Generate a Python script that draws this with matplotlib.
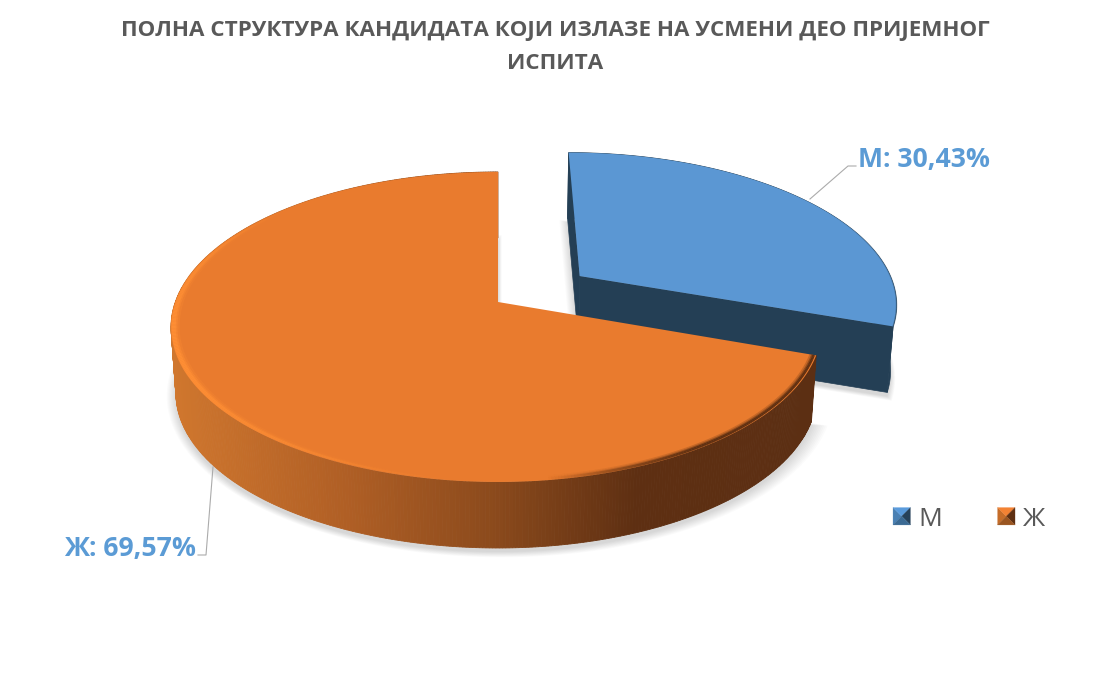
import numpy as np
import matplotlib
matplotlib.use("Agg")
import matplotlib.pyplot as plt
from matplotlib.patches import Polygon, Patch
from matplotlib.collections import LineCollection
from matplotlib.colors import LinearSegmentedColormap, to_rgb
from matplotlib.legend_handler import HandlerBase

# ---- data ----
categories = ["М", "Ж"]
shares = [30.43, 69.57]
title_text = "ПОЛНА СТРУКТУРА КАНДИДАТА КОЈИ ИЗЛАЗЕ НА УСМЕНИ ДЕО ПРИЈЕМНОГ\nИСПИТА"

# ---- style ----
BLUE_TOP, BLUE_SIDE = "#5B97D3", "#243F55"
ORANGE_TOP = "#E97B2E"
LABEL = "#5B9BD5"
GREY = "#595959"
plt.rcParams["font.family"] = ["Open Sans", "DejaVu Sans"]

# ---- layout of the projected disc (figure pixels) ----
APEX = np.array([498.0, 302.0])
BX, BX_RIGHT, AY, K = 322.7, 319.5, 151.0, -0.161
DEPTH, SHRINK = 66.0, 0.985
EXPLODE = (0.263, -0.177)


def project(x, y):
    d = 1 + K * y
    b = np.where(x > 0, BX_RIGHT, BX)
    return np.column_stack([APEX[0] + b * x / d, APEX[1] + AY * y / d])


def top_ring(theta, ex=0.0, ey=0.0):
    return project(np.sin(theta) + ex, -np.cos(theta) + ey)


def apex_point(ex=0.0, ey=0.0):
    return project(np.array([ex]), np.array([ey]))


def drop(p):
    q = p.copy()
    q[:, 0] = APEX[0] + SHRINK * (p[:, 0] - APEX[0])
    q[:, 1] = p[:, 1] + DEPTH
    return q


fig = plt.figure(figsize=(11.12, 6.76), dpi=100, facecolor="white")
ax = fig.add_axes([0, 0, 1, 1])
ax.set_xlim(0, 1112)
ax.set_ylim(676, 0)
ax.axis("off")

split = 2 * np.pi * shares[0] / sum(shares)
th_m = np.linspace(0, split, 160)
th_f = np.linspace(split, 2 * np.pi, 500)
ex, ey = EXPLODE

m_top = top_ring(th_m, ex, ey)
m_apex = apex_point(ex, ey)
f_top = top_ring(th_f)
f_apex = apex_point()

# soft shadows
for mult in np.linspace(1.04, 1.0, 10):
    for top in (np.vstack([m_apex, m_top]), np.vstack([f_apex, f_top])):
        b = drop(top)
        c = b.mean(axis=0)
        s = c + (b - c) * mult + np.array([0, 4])
        ax.add_patch(Polygon(s, closed=True, fc="#000000", ec="none", alpha=0.014, zorder=1))

# male slice: walls then top
m_wall = np.vstack([m_top, drop(m_top)[::-1]])
ax.add_patch(Polygon(m_wall, closed=True, fc=BLUE_SIDE, ec=BLUE_SIDE, lw=0.5, zorder=2))
inner = np.vstack([m_apex, m_top[-1:], drop(m_top[-1:]), drop(m_apex)])
ax.add_patch(Polygon(inner, closed=True, fc=BLUE_SIDE, ec=BLUE_SIDE, lw=0.5, zorder=2))
back = np.vstack([m_apex, m_top[:1], drop(m_top[:1]), drop(m_apex)])
ax.add_patch(Polygon(back, closed=True, fc=BLUE_SIDE, ec=BLUE_SIDE, lw=0.5, zorder=2))
ax.add_patch(Polygon(np.vstack([m_apex, m_top]), closed=True, fc=BLUE_TOP, ec="none", zorder=3))

# female slice: shaded side in strips
side_cmap = LinearSegmentedColormap.from_list(
    "side", [(0.0, "#D0772E"), (0.27, "#B05F25"), (0.50, "#8B4A1C"),
             (0.72, "#5E2F12"), (1.0, "#5C2F13")])
f_bot = drop(f_top)
xmin, xmax = f_top[:, 0].min(), f_top[:, 0].max()
for i in range(len(th_f) - 1):
    quad = np.vstack([f_top[i:i + 2], f_bot[i:i + 2][::-1]])
    xm = quad[:, 0].mean()
    col = side_cmap((xm - xmin) / (xmax - xmin))
    ax.add_patch(Polygon(quad, closed=True, fc=col, ec=col, lw=0.6, zorder=4))
ax.add_patch(Polygon(np.vstack([f_apex, f_top]), closed=True, fc=ORANGE_TOP, ec="none", zorder=5))

# bevel along the rim of the orange top: soft layers hugging the edge
deg = np.degrees(th_f[:-1])
light = np.clip((deg - 185) / 60, 0, 1) * np.clip((315 - deg) / 50, 0, 1)
dark = np.clip((172 - deg) / 25, 0, 1)
for inset, factor, a in ((0.992, 1.0, 0.95), (0.990, 1.5, 0.5), (0.987, 2.1, 0.25)):
    p = APEX + (f_top - APEX) * inset
    segs = np.stack([p[:-1], p[1:]], axis=1)
    colors, widths = [], []
    for l, d in zip(light, dark):
        if d > 0:
            colors.append(to_rgb("#5F3012") + (a * d,))
            widths.append(1.8 * factor)
        else:
            colors.append(to_rgb("#FF8F35") + (a * l,))
            widths.append((0.6 + 2.4 * l) * factor)
    ax.add_collection(LineCollection(segs, colors=colors, linewidths=widths, zorder=6))

# blue rim bevel
segs = np.stack([m_top[:-1], m_top[1:]], axis=1)
shade = np.clip((np.degrees(th_m[:-1]) - 60) / 45, 0, 1)
ax.add_collection(LineCollection(
    segs, colors=[to_rgb(BLUE_SIDE) + (0.5 * s,) for s in shade],
    linewidths=1.0, zorder=6))

# leader lines and data labels
ax.plot([810, 848, 856], [199, 166, 166], color="#ABABAB", lw=0.8, zorder=2)
ax.plot([213, 206, 198], [467, 555, 555], color="#ABABAB", lw=0.8, zorder=2)


def label(i):
    return f"{categories[i]}: {shares[i]:.2f}%".replace(".", ",")


ax.text(858, 160, label(0), color=LABEL, fontsize=19.2, fontweight="bold",
        ha="left", va="center", zorder=8)
ax.text(196, 549, label(1), color=LABEL, fontsize=19.2, fontweight="bold",
        ha="right", va="center", zorder=8)

fig.suptitle(title_text, x=555 / 1112, y=1 - 47 / 676, va="center", ha="center",
             fontsize=16.15, fontweight="bold", color=GREY, linespacing=1.75)


# legend with bevelled keys
class BevelKey(HandlerBase):
    def __init__(self, faces):
        super().__init__()
        self.faces = faces

    def create_artists(self, legend, orig_handle, xdescent, ydescent, width, height, fontsize, trans):
        s = 12.5
        x0 = (width - s) / 2 - xdescent
        y0 = (height - s) / 2 - ydescent
        c = (x0 + s / 2, y0 + s / 2)
        corners = [(x0, y0), (x0, y0 + s), (x0 + s, y0 + s), (x0 + s, y0)]
        out = []
        for j, face in enumerate(self.faces):
            tri = Polygon([corners[j], corners[(j + 1) % 4], c], closed=True, fc=face, ec=face,
                          lw=0.2, transform=trans)
            out.append(tri)
        return out


h_m = Patch(color=BLUE_TOP)
h_f = Patch(color=ORANGE_TOP)
leg = ax.legend(
    [h_m, h_f], categories, ncol=2, frameon=False,
    loc="center left", bbox_to_anchor=(893, 519), bbox_transform=ax.transData,
    fontsize=19, labelcolor=GREY, handlelength=0.66, handleheight=0.7,
    handletextpad=0.3, columnspacing=2.1, borderpad=0, borderaxespad=0,
    handler_map={
        h_m: BevelKey(["#4A80B3", "#5A9BDC", "#26425B", "#3B6A94"]),
        h_f: BevelKey(["#C56C28", "#F38233", "#5F3012", "#9A5520"]),
    })
leg.set_zorder(9)

fig.savefig("out.png", dpi=100, facecolor="white")
